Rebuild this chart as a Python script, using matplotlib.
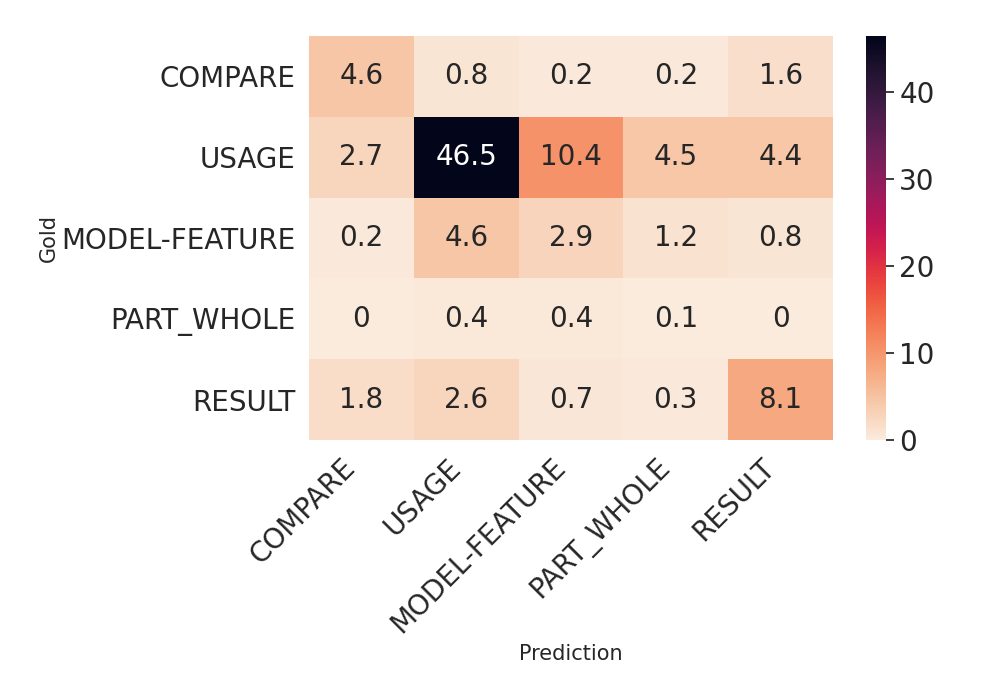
import numpy as np
import matplotlib
matplotlib.use("Agg")
import matplotlib.pyplot as plt
import seaborn as sns

labels = ['COMPARE', 'USAGE', 'MODEL-FEATURE', 'PART_WHOLE', 'RESULT']
compare = [4.6, 0.8, 0.2, 0.2, 1.6]
usage = [2.7, 46.5, 10.4, 4.5, 4.4]
model_feature = [0.2, 4.6, 2.9, 1.2, 0.8]
part_whole = [0, 0.4, 0.4, 0.1, 0]
result = [1.8, 2.6, 0.7, 0.3, 8.1]

cm = np.array([compare, usage, model_feature, part_whole, result])

sns.set_theme(style='white')

fig = plt.figure(figsize=(10, 7), dpi=100)
ax = fig.add_axes([0.309, 0.3714, 0.524, 0.5772])
cax = fig.add_axes([0.866, 0.3714, 0.020, 0.5772])

sns.heatmap(cm, annot=True, fmt='g', cmap='rocket_r', ax=ax, cbar_ax=cax,
            xticklabels=labels, yticklabels=labels, annot_kws={'size': 20})

ax.set_xticklabels(labels, rotation=45, ha='right', fontsize=20)
ax.set_yticklabels(labels, rotation=0, va='center_baseline', fontsize=20)
ax.set_xlabel('Prediction', fontsize=15)
ax.set_ylabel('Gold', fontsize=15, labelpad=2)
cax.tick_params(labelsize=20)

fig.savefig('out.png')
